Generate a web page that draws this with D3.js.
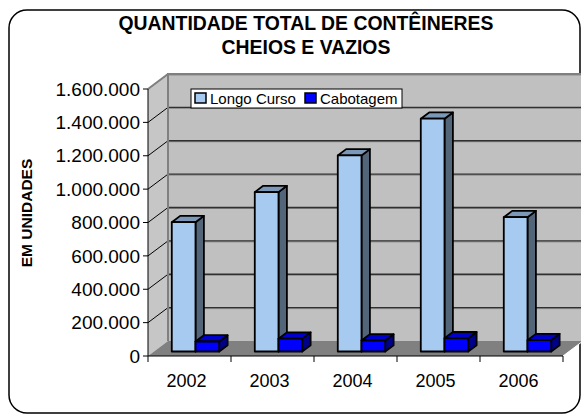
<!DOCTYPE html>
<html><head><meta charset="utf-8">
<script src="https://cdn.jsdelivr.net/npm/d3@7"></script>
<style>body{margin:0;background:#fff}svg{display:block}text{font-family:"Liberation Sans",Arial,sans-serif}</style>
</head><body>
<script>
const years = ["2002","2003","2004","2005","2006"];
const seriesNames = ["Longo Curso","Cabotagem"];
const longoCurso = [775000, 955000, 1175000, 1395000, 805000];
const cabotagem = [60000, 77000, 66000, 79000, 68000];
const yTicks = [0,200000,400000,600000,800000,1000000,1200000,1400000,1600000];
const titleLines = ["QUANTIDADE TOTAL DE CONTÊINERES","CHEIOS E VAZIOS"];
const yTitle = "EM UNIDADES";

const W=581,H=415;
const svg=d3.select("body").append("svg").attr("width",W).attr("height",H);
svg.append("rect").attr("x",9).attr("y",10).attr("width",571).attr("height",403).attr("rx",18)
  .attr("fill","#fff").attr("stroke","#000").attr("stroke-width",1.5);

const DX=20, DY=-15;
const x=d3.scaleBand().domain(years).range([148,563]).paddingInner(0).paddingOuter(0);
const xs=d3.scaleBand().domain(seriesNames).range([0,x.bandwidth()]).paddingInner(0).paddingOuter(0.75);
const y=d3.scaleLinear().domain([0,1600000]).range([356,89]);
const fmt=v=>d3.format(",")(v).replace(/,/g,".");
const x0=148,x1=563,yb=y(0),yt=y(1600000);

// back wall
svg.append("polygon").attr("points",[[x0+DX,yb+DY],[x0+DX,yt+DY],[x1+DX+10,yt+DY],[x1+DX+10,yb+DY]].join(" ")).attr("fill","#c0c0c0");
// side wall
svg.append("polygon").attr("points",[[x0,yb],[x0,yt],[x0+DX,yt+DY],[x0+DX,yb+DY]].join(" ")).attr("fill","#c6c6c6");
// floor
svg.append("polygon").attr("points",[[x0,yb],[x0+DX,yb+DY],[x1+DX,yb+DY],[x1,yb]].join(" ")).attr("fill","#808080");
// grid lines
const gt=yTicks.filter(v=>v>0);
svg.selectAll(".gb").data(gt).join("line").attr("x1",x0+DX).attr("x2",W).attr("y1",d=>y(d)+DY+1).attr("y2",d=>y(d)+DY+1).attr("stroke","#8a8a8a").attr("stroke-width",1);
svg.selectAll(".g").data(gt).join("line").attr("x1",x0+DX).attr("x2",W).attr("y1",d=>y(d)+DY).attr("y2",d=>y(d)+DY).attr("stroke","#303030").attr("stroke-width",1.3);
svg.selectAll(".gs").data(gt).join("line").attr("x1",x0).attr("x2",x0+DX).attr("y1",d=>y(d)).attr("y2",d=>y(d)+DY).attr("stroke","#000").attr("stroke-width",1);
// wall edges
svg.append("polyline").attr("points",[[x0+DX,yb+DY],[x0+DX,yt+DY],[W,yt+DY]].join(" ")).attr("fill","none").attr("stroke","#808080").attr("stroke-width",2);
svg.append("line").attr("x1",x0).attr("y1",yt).attr("x2",x0+DX).attr("y2",yt+DY).attr("stroke","#808080").attr("stroke-width",2);
svg.append("line").attr("x1",x1).attr("y1",yb).attr("x2",x1+DX).attr("y2",yb+DY).attr("stroke","#ffffff").attr("stroke-width",1);

// bars
const f0=0.3,f1=0.72;
const colors={"Longo Curso":{front:"#a6caf0",top:"#7c98b8",side:"#536579"},"Cabotagem":{front:"#0000ff",top:"#0000cc",side:"#000088"}};
const vals={"Longo Curso":longoCurso,"Cabotagem":cabotagem};
const bars=[];
years.forEach((yr,j)=>seriesNames.forEach(s=>bars.push({yr,s,v:vals[s][j]})));
const ddx=(f1-f0)*DX, ddy=(f1-f0)*DY;
const g=svg.append("g");
bars.forEach(b=>{
  const bx=x(b.yr)+xs(b.s)+f0*DX, w=xs.bandwidth();
  const base=y(0)+f0*DY, top=y(b.v)+f0*DY;
  const c=colors[b.s];
  const gg=g.append("g").attr("stroke","#000").attr("stroke-width",1.8).attr("stroke-linejoin","round");
  gg.append("polygon").attr("points",[[bx+w,base],[bx+w,top],[bx+w+ddx,top+ddy],[bx+w+ddx,base+ddy]].join(" ")).attr("fill",c.side);
  gg.append("polygon").attr("points",[[bx,top],[bx+w,top],[bx+w+ddx,top+ddy],[bx+ddx,top+ddy]].join(" ")).attr("fill",c.top);
  gg.append("rect").attr("x",bx).attr("y",top).attr("width",w).attr("height",base-top).attr("fill",c.front);
});

// axes
svg.append("line").attr("x1",x0).attr("x2",x0).attr("y1",yt).attr("y2",yb).attr("stroke","#000");
svg.append("line").attr("x1",x0).attr("x2",x1).attr("y1",yb).attr("y2",yb).attr("stroke","#000");
svg.selectAll(".yt").data(yTicks).join("line").attr("x1",x0-5).attr("x2",x0).attr("y1",d=>y(d)).attr("y2",d=>y(d)).attr("stroke","#000");
svg.selectAll(".yl").data(yTicks).join("text").attr("x",x0-8).attr("y",d=>y(d)).attr("dy","0.35em").attr("text-anchor","end").attr("font-size",19).text(fmt);
const xb=[...years.map(d=>x(d)),x1];
svg.selectAll(".xt").data(xb).join("line").attr("x1",d=>d).attr("x2",d=>d).attr("y1",yb).attr("y2",yb+6).attr("stroke","#000");
svg.selectAll(".xl").data(years).join("text").attr("x",d=>x(d)+x.bandwidth()/2-3).attr("y",387).attr("text-anchor","middle").attr("font-size",18).text(d=>d);

// y title
svg.append("text").attr("transform","translate(32,213) rotate(-90)").attr("text-anchor","middle").attr("font-size",15.5).attr("font-weight","bold").text(yTitle);
// title
svg.selectAll(".tt").data(titleLines).join("text").attr("x",306).attr("y",(d,i)=>30+i*24).attr("text-anchor","middle").attr("font-size",19.4).attr("font-weight","bold").text(d=>d);

// legend
const lg=svg.append("g");
lg.append("rect").attr("x",191).attr("y",89).attr("width",211).attr("height",19).attr("fill","#fff").attr("stroke","#000");
const lx=[195,305];
seriesNames.forEach((s,i)=>{
  lg.append("rect").attr("x",lx[i]).attr("y",93).attr("width",11).attr("height",10).attr("fill",colors[s].front).attr("stroke","#000").attr("stroke-width",1.5);
  lg.append("text").attr("x",lx[i]+15).attr("y",104).attr("font-size",15).text(s);
});
</script>
</body></html>
